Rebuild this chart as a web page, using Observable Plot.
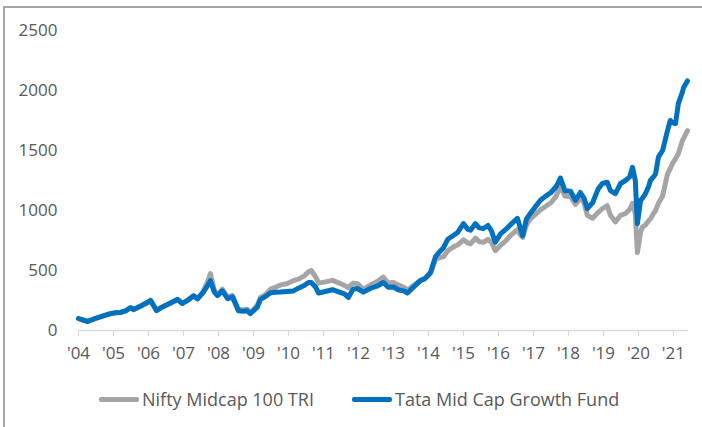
<!DOCTYPE html>
<html>
<head>
<meta charset="utf-8">
<script src="https://cdn.jsdelivr.net/npm/d3@7"></script>
<script src="https://cdn.jsdelivr.net/npm/@observablehq/plot@0.6"></script>
<style>
  html, body { margin: 0; padding: 0; background: #fff; width: 702px; height: 427px; overflow: hidden; }
  body { position: relative; font-family: "Open Sans", sans-serif; }
  #frame { position: absolute; left: 3px; top: 6px; width: 760px; height: 480px;
           border-left: 2px solid #a6a6a6; border-top: 2px solid #a6a6a6; }
  #chart { position: absolute; left: 0; top: 0; }
  .leg { position: absolute; top: 387px; display: flex; align-items: center; color: #595959; font-size: 18px; white-space: nowrap; }
  .sw { width: 40px; height: 5px; border-radius: 2px; margin-right: 3px; }
</style>
</head>
<body>
<div id="frame"></div>
<div id="chart"></div>
<div class="leg" style="left:99px"><div class="sw" style="background:#a5a5a5"></div><span>Nifty Midcap 100 TRI</span></div>
<div class="leg" style="left:352px"><div class="sw" style="background:#0070c0"></div><span>Tata Mid Cap Growth Fund</span></div>
<script>
const seriesNames = ["Nifty Midcap 100 TRI", "Tata Mid Cap Growth Fund"];
const xTickYears = [2004,2005,2006,2007,2008,2009,2010,2011,2012,2013,2014,2015,2016,2017,2018,2019,2020,2021];
const yTicks = [0, 500, 1000, 1500, 2000, 2500];

const t = [2004.00,2004.10,2004.26,2004.45,2004.65,2004.91,2005.05,2005.20,2005.35,2005.49,2005.57,2005.80,
2006.00,2006.06,2006.23,2006.40,2006.63,2006.83,2006.97,2007.15,2007.29,2007.40,2007.55,2007.68,2007.77,2007.88,
2007.97,2008.11,2008.26,2008.40,2008.57,2008.71,2008.82,2008.91,2009.11,2009.20,2009.35,2009.49,2009.63,2009.77,
2009.95,2010.14,2010.30,2010.45,2010.57,2010.65,2010.78,2010.86,2011.05,2011.26,2011.45,2011.60,2011.71,2011.85,
2011.97,2012.14,2012.35,2012.55,2012.71,2012.85,2013.00,2013.15,2013.30,2013.40,2013.55,2013.77,2013.90,2014.06,
2014.20,2014.30,2014.43,2014.55,2014.70,2014.83,2015.00,2015.12,2015.20,2015.34,2015.45,2015.57,2015.70,2015.80,
2015.91,2016.06,2016.20,2016.34,2016.54,2016.62,2016.69,2016.80,2016.91,2017.05,2017.20,2017.35,2017.50,2017.65,
2017.77,2017.90,2018.06,2018.20,2018.34,2018.45,2018.54,2018.69,2018.85,2018.97,2019.11,2019.20,2019.34,2019.49,
2019.63,2019.75,2019.83,2019.91,2019.97,2020.06,2020.11,2020.20,2020.29,2020.34,2020.43,2020.49,2020.57,2020.69,
2020.83,2020.91,2020.97,2021.06,2021.14,2021.26,2021.29,2021.40];

const nifty = [100,88,76,98,118,140,148,152,165,192,172,205,
235,252,172,198,228,255,225,258,288,262,320,400,475,335,
300,345,280,292,178,172,178,148,210,275,300,345,360,380,
390,415,430,455,490,500,445,395,405,418,395,375,358,395,
390,345,380,410,445,395,400,378,360,338,370,420,435,475,
590,605,615,665,695,712,755,730,722,770,740,735,760,735,
665,710,745,790,840,800,775,880,930,965,1005,1035,1065,1120,
1200,1120,1115,1050,1105,1060,960,935,985,1015,1040,960,905,960,
975,1010,1060,975,650,820,860,880,915,930,975,1000,1060,1120,
1305,1350,1390,1430,1475,1585,1600,1665];

const tata = [100,90,75,97,115,140,147,150,163,190,175,208,
240,250,165,196,230,260,225,258,290,265,312,370,415,320,
290,330,265,280,165,160,165,140,195,260,285,315,318,320,
325,330,355,375,400,400,360,312,325,340,320,305,275,345,
350,320,352,372,400,360,362,338,330,312,355,415,432,485,
615,650,690,760,790,815,890,845,835,890,855,850,875,830,
735,805,840,880,935,860,790,930,975,1030,1085,1120,1150,1200,
1270,1165,1160,1085,1150,1100,1015,1065,1180,1225,1235,1165,1140,1225,
1250,1280,1360,1250,890,1085,1100,1140,1200,1250,1280,1305,1445,1500,
1665,1750,1730,1725,1890,1990,2025,2080];

const rows = [];
t.forEach((x, i) => rows.push({x, v: nifty[i], s: seriesNames[0]}));
t.forEach((x, i) => rows.push({x, v: tata[i], s: seriesNames[1]}));
const colors = ["#a5a5a5", "#0070c0"];

const chart = Plot.plot({
  width: 702,
  height: 370,
  marginLeft: 78,
  marginRight: 14,
  marginTop: 30,
  marginBottom: 40,
  style: {fontFamily: "'Open Sans', sans-serif", fontSize: "17px", color: "#595959", background: "transparent"},
  x: {domain: [2004, 2021.43]},
  y: {domain: [0, 2500]},
  marks: [
    Plot.ruleY([0], {stroke: "#d9d9d9", strokeWidth: 1.5}),
    Plot.axisX({ticks: xTickYears, tickFormat: d => "'" + String(d).slice(2), tickSize: 6, tickPadding: 10,
                stroke: "#d9d9d9", fill: "#595959", label: null, fontSize: 17}),
    Plot.axisY({ticks: yTicks, tickFormat: d => String(d), tickSize: 0, tickPadding: 21, label: null,
                fill: "#595959", fontSize: 17}),
    Plot.line(rows, {x: "x", y: "v", z: "s", stroke: d => colors[seriesNames.indexOf(d.s)],
                     strokeWidth: 5, strokeLinejoin: "round", strokeLinecap: "round"})
  ]
});
document.getElementById("chart").appendChild(chart);
</script>
</body>
</html>
